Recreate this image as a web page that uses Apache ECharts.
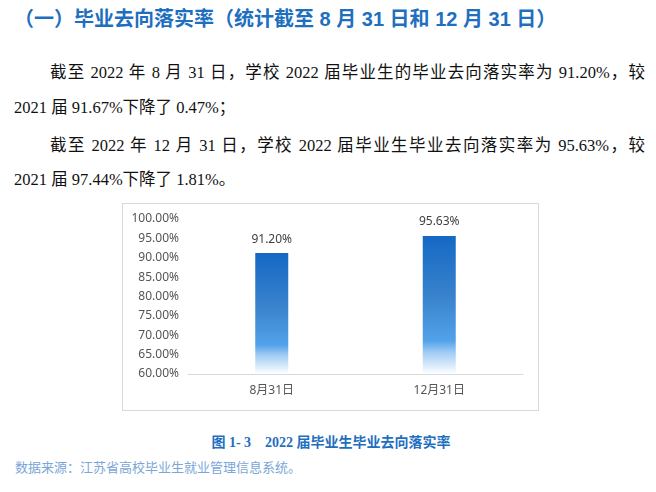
<!DOCTYPE html>
<html>
<head>
<meta charset="utf-8">
<script src="https://cdn.jsdelivr.net/npm/echarts@6/dist/echarts.min.js"></script>
<style>
  html, body { margin: 0; padding: 0; background: #fff; }
  body { width: 656px; height: 492px; position: relative; overflow: hidden; }
  .title {
    position: absolute; left: 14px; top: 7px;
    font: bold 20px/24px "Liberation Sans", "Noto Sans CJK SC", sans-serif;
    color: #1f6fbf; white-space: nowrap;
  }
  .line {
    position: absolute; left: 14px; width: 631px;
    font: 16.5px/22px "Liberation Serif", "Noto Sans CJK SC", serif;
    color: #111; white-space: nowrap;
  }
  .just { text-align: justify; text-align-last: justify; white-space: normal; }
  .indent { left: 50px; width: 595px; }
  #chart {
    position: absolute; left: 122px; top: 203px; width: 417px; height: 208px;
    box-sizing: border-box; border: 1px solid #d9d9d9;
  }
  .caption {
    position: absolute; left: 0; width: 662px; top: 433px; text-align: center;
    font: bold 14px/20px "Liberation Serif", "Noto Sans CJK SC", serif;
    color: #1f6fbf; white-space: pre;
  }
  .source {
    position: absolute; left: 15px; top: 458px;
    font: 13px/18px "Noto Sans CJK SC", sans-serif;
    color: #7aa6d8; white-space: nowrap;
  }
</style>
</head>
<body>
<div class="title">（一）毕业去向落实率（统计截至 8 月 31 日和 12 月 31 日）</div>
<div class="line just indent" style="top:62px">截至 2022 年 8 月 31 日，学校 2022 届毕业生的毕业去向落实率为 91.20%，较</div>
<div class="line" style="top:97px">2021 届 91.67%下降了 0.47%；</div>
<div class="line just indent" style="top:135px">截至 2022 年 12 月 31 日，学校 2022 届毕业生毕业去向落实率为 95.63%，较</div>
<div class="line" style="top:169px">2021 届 97.44%下降了 1.81%。</div>
<div id="chart"></div>
<div class="caption">图 1- 3    2022 届毕业生毕业去向落实率</div>
<div class="source">数据来源：江苏省高校毕业生就业管理信息系统。</div>
<script>
// chart data
const categories = ['8月31日', '12月31日'];
const rates = [91.20, 95.63];
const yMin = 60;
const yMax = 100;
const yStep = 5;

const chartFont = '"Noto Sans", "Noto Sans CJK SC", sans-serif';
const labelColor = '#555555';

const chart = echarts.init(document.getElementById('chart'));

const barFill = new echarts.graphic.LinearGradient(0, 0, 0, 1, [
    { offset: 0, color: '#1468c4' },
    { offset: 0.45, color: '#3a83cd' },
    { offset: 0.76, color: '#52a2ea' },
    { offset: 0.84, color: '#9ecaf3' },
    { offset: 1, color: '#ffffff' },
]);

chart.setOption({
    animation: false,
    textStyle: { fontFamily: chartFont },
    grid: { left: 65, right: 15, top: 15, bottom: 36 },
    xAxis: {
        type: 'category',
        data: categories,
        axisLine: { show: true, lineStyle: { color: '#d9d9d9', width: 1 } },
        axisTick: { show: false },
        axisLabel: { color: labelColor, fontSize: 12, margin: 11, fontFamily: chartFont },
    },
    yAxis: {
        type: 'value',
        min: yMin,
        max: yMax,
        interval: yStep,
        axisLine: { show: false },
        axisTick: { show: false },
        splitLine: { show: false },
        axisLabel: {
            color: labelColor,
            fontSize: 12,
            margin: 9,
            fontFamily: chartFont,
            formatter: (v) => v.toFixed(2) + '%',
        },
    },
    series: [
        {
            type: 'bar',
            data: rates,
            barWidth: 33,
            itemStyle: { color: barFill },
            label: {
                show: true,
                position: 'top',
                distance: 8,
                color: '#404040',
                fontSize: 12,
                fontFamily: chartFont,
                formatter: (p) => p.value.toFixed(2) + '%',
            },
            silent: true,
        },
    ],
});
</script>
</body>
</html>
